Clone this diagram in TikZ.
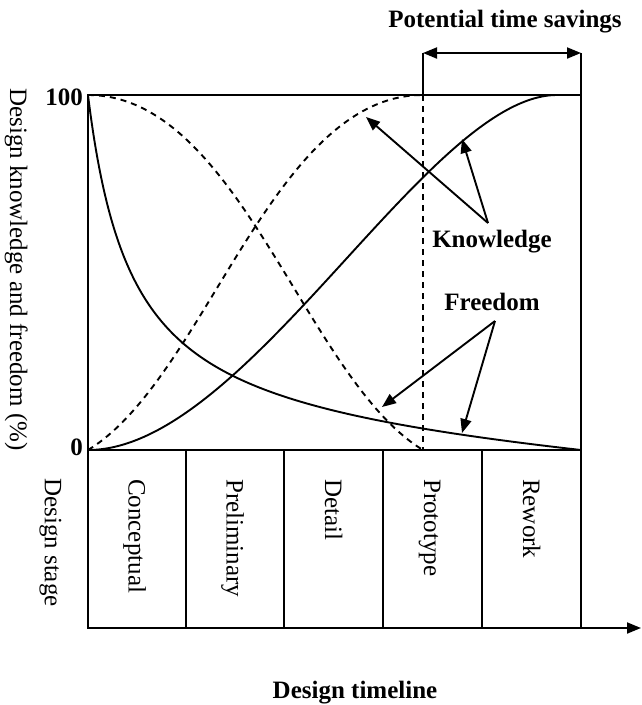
\documentclass[tikz,border=0pt]{standalone}
\usepackage{fontspec}
\setmainfont{Liberation Serif}
\usetikzlibrary{arrows.meta}
\begin{document}
\begin{tikzpicture}[x=1pt,y=-1pt,
  ln/.style={line width=1.9pt},
  dsh/.style={line width=1.9pt, dash pattern=on 6pt off 5pt},
  tip/.style={-{Triangle[length=14pt,width=11pt]}},
  lbl/.style={font=\fontsize{25}{30}\selectfont\bfseries, inner sep=0pt},
  rlbl/.style={font=\fontsize{25}{30}\selectfont, inner sep=0pt, rotate=-90, anchor=base west},
]
\useasboundingbox (0,0) rectangle (641,705);

% frame
\draw[ln, line join=miter] (88,628) -- (88,95) -- (581,95);
\draw[ln] (581,53) -- (581,628);
\draw[ln] (423,53) -- (423,95);
\draw[ln] (88,450) -- (581,450);
\foreach \x in {186,284,383,482} \draw[ln] (\x,450) -- (\x,628);
\coordinate (ax0) at (87.1,628);
\coordinate (ax1) at (641,628);
\draw[ln, tip] (ax0) -- (ax1);
\draw[dsh] (423,95) -- (423,450);

% potential time savings
\coordinate (ts0) at (423,53);
\coordinate (ts1) at (581,53);
\draw[ln, {Triangle[length=14pt,width=11pt]}-{Triangle[length=14pt,width=11pt]}] (ts0) -- (ts1);
\node[lbl, anchor=base] (pts) at (505,27) {Potential time savings};

% curves
% freedom (actual): hyperbolic decay
\draw[ln] plot[domain=0:1, samples=160, variable=\u, smooth]
  ({88+493*\u*\u}, {450-355*(44/(493*\u*\u+44) - \u*\u*44/537)});
% knowledge (actual): S-curve
\draw[ln] (88,450) .. controls (247,450) and (428,95) .. (557,95) -- (581,95);
% knowledge (proposed)
\draw[dsh] (88,450) .. controls (205.25,379) and (272.25,95) .. (423,95);
% freedom (proposed)
\draw[dsh] (88,95) .. controls (238.75,95) and (305.75,379) .. (423,450);

% labels and arrows
\node[lbl, anchor=base] (kn) at (492,247) {Knowledge};
\node[lbl, anchor=base] (fr) at (492,310) {Freedom};
\coordinate (ko) at (488,223);
\coordinate (kt1) at (366,117);
\coordinate (kt2) at (462,139);
\draw[ln, tip] (ko) -- (kt1);
\draw[ln, tip] (ko) -- (kt2);
\coordinate (fo) at (495,321);
\coordinate (ft1) at (382,407);
\coordinate (ft2) at (462,433);
\draw[ln, tip] (fo) -- (ft1);
\draw[ln, tip] (fo) -- (ft2);

% axis labels
\node[lbl, anchor=base east] (l100) at (83,105) {100};
\node[lbl, anchor=base east] (l0) at (83,455) {0};
\node[rlbl] (ylab) at (10,88) {Design knowledge and freedom (\%)};
\node[rlbl] (dstage) at (45,478) {Design stage};
\node[rlbl] (s1) at (128.5,479) {Conceptual};
\node[rlbl] (s2) at (226.5,479) {Preliminary};
\node[rlbl] (s3) at (325,479) {Detail};
\node[rlbl] (s4) at (424,479) {Prototype};
\node[rlbl] (s5) at (523,479) {Rework};
\node[lbl, anchor=base] (tl) at (355,698) {Design timeline};
\end{tikzpicture}
\end{document}
